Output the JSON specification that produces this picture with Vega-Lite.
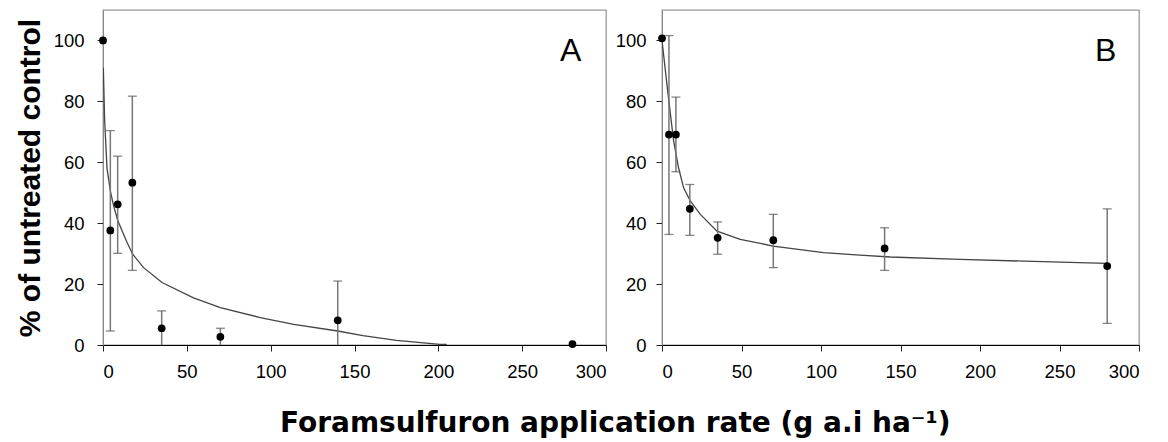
{
  "$schema": "https://vega.github.io/schema/vega-lite/v6.json",
  "background": "white",
  "padding": {"left": 14, "top": 9, "right": 5, "bottom": 5},
  "bounds": "flush",
  "spacing": 56,
  "title": {"text": "Foramsulfuron application rate (g a.i ha⁻¹)", "orient": "bottom", "anchor": "middle", "fontSize": 28, "fontWeight": "bold", "font": "DejaVu Sans", "color": "#000", "offset": 29, "dx": 38},
  "config": {
    "font": "Liberation Sans",
    "view": {"stroke": "#999", "strokeWidth": 1.3},
    "axis": {"grid": false, "labelFontSize": 18.5, "labelColor": "#000", "tickColor": "#222", "tickSize": 6, "domainColor": "#000", "labelFont": "Liberation Sans"}
  },
  "datasets": {
    "pts": [
      {"panel": "A", "dose": 0, "mean": 100},
      {"panel": "A", "dose": 4.375, "mean": 37.6},
      {"panel": "A", "dose": 8.75, "mean": 46.2},
      {"panel": "A", "dose": 17.5, "mean": 53.3},
      {"panel": "A", "dose": 35, "mean": 5.5},
      {"panel": "A", "dose": 70, "mean": 2.7},
      {"panel": "A", "dose": 140, "mean": 8.1},
      {"panel": "A", "dose": 280, "mean": 0.3},
      {"panel": "B", "dose": 0, "mean": 100.7},
      {"panel": "B", "dose": 4.375, "mean": 69.1},
      {"panel": "B", "dose": 8.75, "mean": 69.1},
      {"panel": "B", "dose": 17.5, "mean": 44.7},
      {"panel": "B", "dose": 35, "mean": 35.2},
      {"panel": "B", "dose": 70, "mean": 34.4},
      {"panel": "B", "dose": 140, "mean": 31.7},
      {"panel": "B", "dose": 280, "mean": 25.9}
    ],
    "err": [
      {"panel": "A", "dose": 4.375, "lo": 4.6, "hi": 70.4},
      {"panel": "A", "dose": 8.75, "lo": 30.1, "hi": 62},
      {"panel": "A", "dose": 17.5, "lo": 24.5, "hi": 81.7},
      {"panel": "A", "dose": 35, "lo": 0, "hi": 11.2},
      {"panel": "A", "dose": 70, "lo": 0, "hi": 5.5},
      {"panel": "A", "dose": 140, "lo": 0, "hi": 21},
      {"panel": "B", "dose": 4.375, "lo": 36.3, "hi": 101.6},
      {"panel": "B", "dose": 8.75, "lo": 56.9, "hi": 81.4},
      {"panel": "B", "dose": 17.5, "lo": 36, "hi": 52.7},
      {"panel": "B", "dose": 35, "lo": 29.8, "hi": 40.4},
      {"panel": "B", "dose": 70, "lo": 25.4, "hi": 42.9},
      {"panel": "B", "dose": 140, "lo": 24.5, "hi": 38.5},
      {"panel": "B", "dose": 280, "lo": 7.1, "hi": 44.7}
    ],
    "caps": [
      {"panel": "A", "dose": 4.375, "v": 4.6},
      {"panel": "A", "dose": 4.375, "v": 70.4},
      {"panel": "A", "dose": 8.75, "v": 30.1},
      {"panel": "A", "dose": 8.75, "v": 62},
      {"panel": "A", "dose": 17.5, "v": 24.5},
      {"panel": "A", "dose": 17.5, "v": 81.7},
      {"panel": "A", "dose": 35, "v": 11.2},
      {"panel": "A", "dose": 70, "v": 5.5},
      {"panel": "A", "dose": 140, "v": 21},
      {"panel": "B", "dose": 4.375, "v": 36.3},
      {"panel": "B", "dose": 4.375, "v": 101.6},
      {"panel": "B", "dose": 8.75, "v": 56.9},
      {"panel": "B", "dose": 8.75, "v": 81.4},
      {"panel": "B", "dose": 17.5, "v": 36},
      {"panel": "B", "dose": 17.5, "v": 52.7},
      {"panel": "B", "dose": 35, "v": 29.8},
      {"panel": "B", "dose": 35, "v": 40.4},
      {"panel": "B", "dose": 70, "v": 25.4},
      {"panel": "B", "dose": 70, "v": 42.9},
      {"panel": "B", "dose": 140, "v": 24.5},
      {"panel": "B", "dose": 140, "v": 38.5},
      {"panel": "B", "dose": 280, "v": 7.1},
      {"panel": "B", "dose": 280, "v": 44.7}
    ],
    "fit": [
      {"panel": "A", "dose": 0.2, "fit": 91},
      {"panel": "A", "dose": 1, "fit": 73.5},
      {"panel": "A", "dose": 2.4, "fit": 58},
      {"panel": "A", "dose": 4.4, "fit": 50.5},
      {"panel": "A", "dose": 6.4, "fit": 45.5},
      {"panel": "A", "dose": 8.9, "fit": 40.7},
      {"panel": "A", "dose": 14.1, "fit": 34},
      {"panel": "A", "dose": 17.7, "fit": 29.8},
      {"panel": "A", "dose": 24.2, "fit": 25.4},
      {"panel": "A", "dose": 35.2, "fit": 20.5},
      {"panel": "A", "dose": 54, "fit": 15.5},
      {"panel": "A", "dose": 70, "fit": 12.3},
      {"panel": "A", "dose": 93.8, "fit": 9},
      {"panel": "A", "dose": 113.7, "fit": 6.8},
      {"panel": "A", "dose": 140, "fit": 4.6},
      {"panel": "A", "dose": 155, "fit": 3.1},
      {"panel": "A", "dose": 175, "fit": 1.5},
      {"panel": "A", "dose": 201, "fit": 0.2},
      {"panel": "A", "dose": 205, "fit": 0.2},
      {"panel": "B", "dose": 0, "fit": 100},
      {"panel": "B", "dose": 3.1, "fit": 85.6},
      {"panel": "B", "dose": 7.3, "fit": 67},
      {"panel": "B", "dose": 10.4, "fit": 58.2},
      {"panel": "B", "dose": 13.6, "fit": 51.6},
      {"panel": "B", "dose": 17.8, "fit": 47.3},
      {"panel": "B", "dose": 24.1, "fit": 42.9},
      {"panel": "B", "dose": 34.6, "fit": 37.4},
      {"panel": "B", "dose": 49.2, "fit": 34.7},
      {"panel": "B", "dose": 69.8, "fit": 32.5},
      {"panel": "B", "dose": 101.6, "fit": 30.3},
      {"panel": "B", "dose": 124.6, "fit": 29.5},
      {"panel": "B", "dose": 143.5, "fit": 28.9},
      {"panel": "B", "dose": 187.5, "fit": 28.1},
      {"panel": "B", "dose": 250.4, "fit": 27.2},
      {"panel": "B", "dose": 280, "fit": 26.8}
    ],
    "labels": [
      {"panel": "A", "dose": 279, "y": 96.5, "label": "A"},
      {"panel": "B", "dose": 279, "y": 96.5, "label": "B"}
    ]
  },
  "hconcat": [
    {
      "width": 503,
      "height": 335,
      "layer": [
        {
          "data": {"name": "fit"},
          "transform": [{"filter": "datum.panel === 'A'"}],
          "mark": {"type": "line", "color": "#444", "strokeWidth": 1.3, "clip": true},
          "encoding": {
            "x": {"field": "dose", "type": "quantitative", "scale": {"domain": [0, 300], "nice": false}, "axis": {"title": null, "values": [0, 50, 100, 150, 200, 250, 300], "labelPadding": 11}},
            "y": {"field": "fit", "type": "quantitative", "scale": {"domain": [0, 110], "nice": false}, "axis": {"title": "% of untreated control", "titleFont": "Liberation Sans", "titleFontSize": 30, "titleFontWeight": "bold", "titleColor": "#000", "titlePadding": 8, "values": [0, 20, 40, 60, 80, 100], "labelPadding": 13, "domainColor": "#888"}}
          }
        },
        {
          "data": {"name": "err"},
          "transform": [{"filter": "datum.panel === 'A'"}],
          "mark": {"type": "rule", "color": "#777", "strokeWidth": 1.5},
          "encoding": {
            "x": {"field": "dose", "type": "quantitative"},
            "y": {"field": "lo", "type": "quantitative"},
            "y2": {"field": "hi"}
          }
        },
        {
          "data": {"name": "caps"},
          "transform": [{"filter": "datum.panel === 'A'"}],
          "mark": {"type": "tick", "orient": "horizontal", "color": "#555", "size": 9, "thickness": 1.3},
          "encoding": {
            "x": {"field": "dose", "type": "quantitative"},
            "y": {"field": "v", "type": "quantitative"}
          }
        },
        {
          "data": {"name": "pts"},
          "transform": [{"filter": "datum.panel === 'A'"}],
          "mark": {"type": "point", "filled": true, "color": "#000", "size": 60, "opacity": 1},
          "encoding": {
            "x": {"field": "dose", "type": "quantitative"},
            "y": {"field": "mean", "type": "quantitative"}
          }
        },
        {
          "data": {"name": "labels"},
          "transform": [{"filter": "datum.panel === 'A'"}],
          "mark": {"type": "text", "fontSize": 32, "color": "#000", "font": "Liberation Sans"},
          "encoding": {
            "x": {"field": "dose", "type": "quantitative"},
            "y": {"field": "y", "type": "quantitative"},
            "text": {"field": "label"}
          }
        }
      ]
    },
    {
      "width": 477,
      "height": 335,
      "layer": [
        {
          "data": {"name": "fit"},
          "transform": [{"filter": "datum.panel === 'B'"}],
          "mark": {"type": "line", "color": "#444", "strokeWidth": 1.3, "clip": true},
          "encoding": {
            "x": {"field": "dose", "type": "quantitative", "scale": {"domain": [0, 300], "nice": false}, "axis": {"title": null, "values": [0, 50, 100, 150, 200, 250, 300], "labelPadding": 11}},
            "y": {"field": "fit", "type": "quantitative", "scale": {"domain": [0, 110], "nice": false}, "axis": {"title": null, "values": [0, 20, 40, 60, 80, 100], "labelPadding": 10, "domainColor": "#888"}}
          }
        },
        {
          "data": {"name": "err"},
          "transform": [{"filter": "datum.panel === 'B'"}],
          "mark": {"type": "rule", "color": "#777", "strokeWidth": 1.5},
          "encoding": {
            "x": {"field": "dose", "type": "quantitative"},
            "y": {"field": "lo", "type": "quantitative"},
            "y2": {"field": "hi"}
          }
        },
        {
          "data": {"name": "caps"},
          "transform": [{"filter": "datum.panel === 'B'"}],
          "mark": {"type": "tick", "orient": "horizontal", "color": "#555", "size": 9, "thickness": 1.3},
          "encoding": {
            "x": {"field": "dose", "type": "quantitative"},
            "y": {"field": "v", "type": "quantitative"}
          }
        },
        {
          "data": {"name": "pts"},
          "transform": [{"filter": "datum.panel === 'B'"}],
          "mark": {"type": "point", "filled": true, "color": "#000", "size": 60, "opacity": 1},
          "encoding": {
            "x": {"field": "dose", "type": "quantitative"},
            "y": {"field": "mean", "type": "quantitative"}
          }
        },
        {
          "data": {"name": "labels"},
          "transform": [{"filter": "datum.panel === 'B'"}],
          "mark": {"type": "text", "fontSize": 32, "color": "#000", "font": "Liberation Sans"},
          "encoding": {
            "x": {"field": "dose", "type": "quantitative"},
            "y": {"field": "y", "type": "quantitative"},
            "text": {"field": "label"}
          }
        }
      ]
    }
  ]
}
